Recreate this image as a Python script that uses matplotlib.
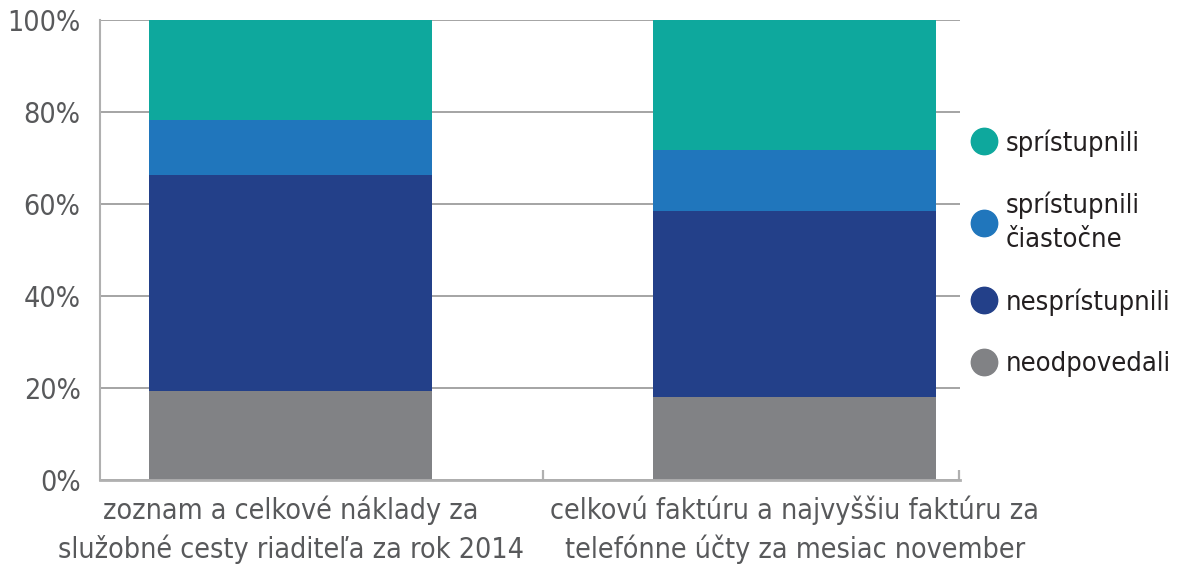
import matplotlib
matplotlib.use("Agg")
import matplotlib.pyplot as plt
from matplotlib import font_manager
from matplotlib.lines import Line2D

# data (percent)
categories = ["zoznam a celkové náklady za\nslužobné cesty riaditeľa za rok 2014",
              "celkovú faktúru a najvyššiu faktúru za\ntelefónne účty za mesiac november"]
neodpovedali = [19.4, 18.0]
nespristupnili = [46.9, 40.5]
ciastocne = [12.0, 13.2]
spristupnili = [21.7, 28.3]

series_names = ["neodpovedali", "nesprístupnili", "sprístupnili\nčiastočne", "sprístupnili"]
series_colors = ["#818285", "#234089", "#2076bc", "#0ea89d"]
yticks = [0, 20, 40, 60, 80, 100]

names = {f.name for f in font_manager.fontManager.ttflist}
if "Liberation Sans Narrow" in names:
    plt.rcParams["font.family"] = ["Liberation Sans Narrow", "DejaVu Sans"]
else:
    plt.rcParams["font.family"] = ["DejaVu Sans"]
    plt.rcParams["font.stretch"] = "condensed"

fig = plt.figure(figsize=(11.77, 5.65), dpi=100)
ax = fig.add_axes([0.085, 0.150, 0.7306, 0.8146])

x = [0, 1]
w = 0.5615
bottom = [0, 0]
for vals, name, col in zip([neodpovedali, nespristupnili, ciastocne, spristupnili],
                           series_names, series_colors):
    ax.bar(x, vals, w, bottom=bottom, color=col, label=name, zorder=2)
    bottom = [b + v for b, v in zip(bottom, vals)]

xr = 1.328
ax.set_xlim(-0.378, xr)
ax.set_ylim(0, 100)
ax.set_yticks(yticks)
ax.set_yticklabels([f"{t}%" for t in yticks])
ax.set_xticks(x)
ax.set_xticklabels(categories, linespacing=1.4)
ax.set_xticks([0.5, xr - 0.002], minor=True)

ax.tick_params(axis="y", length=0, pad=14, labelsize=20.5, labelcolor="#58595b")
ax.tick_params(axis="x", which="major", length=0, pad=11, labelsize=20.5, labelcolor="#58595b")
ax.tick_params(axis="x", which="minor", direction="in", length=7, width=1.6, color="#b0b0b0")

ax.grid(axis="y", color="#8c8c8c", linewidth=1.1, zorder=1)
ax.set_axisbelow(True)
for s in ["top", "right"]:
    ax.spines[s].set_visible(False)
ax.spines["left"].set_color("#b0b0b0")
ax.spines["left"].set_linewidth(1.5)
ax.spines["bottom"].set_color("#b0b0b0")
ax.spines["bottom"].set_linewidth(2)

handles = [Line2D([], [], marker="o", ls="", markersize=19, color=c) for c in series_colors[::-1]]
leg = fig.legend(handles, series_names[::-1], loc="center left", bbox_to_anchor=(0.8245, 0.552),
                 frameon=False, fontsize=19.5, handlelength=1.0, handletextpad=0.3,
                 labelspacing=1.3, borderpad=0, borderaxespad=0)
for t in leg.get_texts():
    t.set_color("#231f20")
leg.get_texts()[1].set_linespacing(1.4)

fig.savefig("out.png", dpi=100)
